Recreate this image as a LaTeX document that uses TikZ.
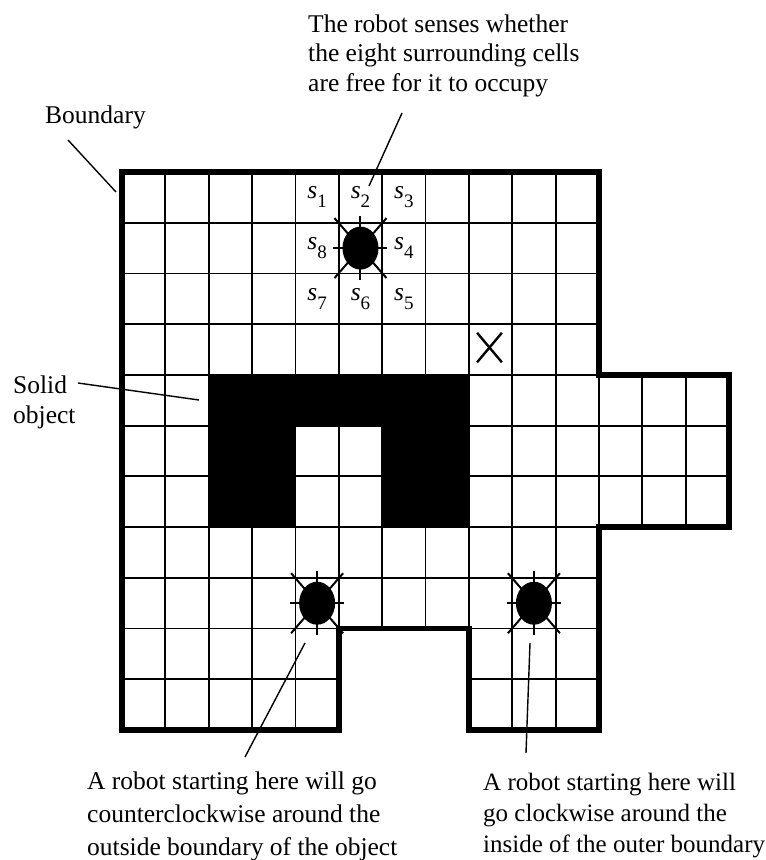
\documentclass[tikz,border=0pt]{standalone}
\usepackage{fontspec}
\setmainfont{Liberation Serif}
\usetikzlibrary{shapes.geometric}
\newcommand\svar[1]{\textit{s}\raisebox{-9pt}{\fontsize{19}{19}\selectfont #1}}
\begin{document}
\begin{tikzpicture}[x=1pt,y=-1pt,
  gridline/.style={line width=1.8pt},
  wall/.style={line width=5.5pt, line join=miter},
  leader/.style={line width=1.4pt},
  lbl/.style={font=\fontsize{25.5}{31}\selectfont, inner sep=0pt, align=left, anchor=base west},
  robot/.style={ellipse, fill=black, minimum width=36pt, minimum height=43pt, inner sep=0pt},
  spike/.style={line width=2pt},
  slabel/.style={font=\fontsize{25.5}{31}\selectfont, inner sep=0pt}]
\useasboundingbox (0,0) rectangle (766,860);
\fill[white] (0,0) rectangle (766,860);
\begin{scope}[shift={(122pt,-172pt)}, x=43.36pt, y=-50.73pt]
  \begin{scope}
    \clip (0,0) -- (11,0) -- (11,4) -- (14,4) -- (14,7) -- (11,7) -- (11,11) -- (8,11) -- (8,9) -- (5,9) -- (5,11) -- (0,11) -- cycle;
    \foreach \c in {1,...,13} \draw[gridline] (\c,0) -- (\c,11);
    \foreach \r in {1,...,10} \draw[gridline] (0,\r) -- (14,\r);
  \end{scope}
  % solid object
  \fill (2,4) -- (8,4) -- (8,7) -- (6,7) -- (6,5) -- (4,5) -- (4,7) -- (2,7) -- cycle;
  % boundary
  \draw[wall] (0,0) -- (11,0) -- (11,4) -- (14,4) -- (14,7) -- (11,7) -- (11,11) -- (8,11) -- (8,9) -- (5,9) -- (5,11) -- (0,11) -- cycle;
  % sensing labels
  \node[slabel] (s1) at (4.5,0.5) {\svar{1}};
  \node[slabel] (s2) at (5.5,0.5) {\svar{2}};
  \node[slabel] (s3) at (6.5,0.5) {\svar{3}};
  \node[slabel] (s4) at (6.5,1.5) {\svar{4}};
  \node[slabel] (s5) at (6.5,2.5) {\svar{5}};
  \node[slabel] (s6) at (5.5,2.5) {\svar{6}};
  \node[slabel] (s7) at (4.5,2.5) {\svar{7}};
  \node[slabel] (s8) at (4.5,1.5) {\svar{8}};
  % robots
  \foreach \n/\p in {r1/{(5.5,1.5)}, r2/{(4.5,8.5)}, r3/{(9.5,8.5)}}{
    \node[robot] (\n) at \p {};
    \foreach \dx/\dy in {0/32, 0/-32, 27/0, -27/0, 26/30, -26/30, 26/-30, -26/-30}
      \draw[spike] (\n.center) -- ++(\dx pt,\dy pt);
  }
  % X mark
  \draw[line width=2.4pt] (8.19,3.17) -- (8.76,3.75);
  \draw[line width=2.4pt] (8.76,3.17) -- (8.19,3.75);
\end{scope}
% labels (base anchor = baseline of the last line)
\node[lbl, font=\fontsize{25.5}{29.5}\selectfont] (toplbl) at (308,91) {The robot senses whether\\the eight surrounding cells\\are free for it to occupy};
\node[lbl] (bnd) at (45,123) {Boundary};
\node[lbl, font=\fontsize{25.5}{30}\selectfont] (solid) at (13,423) {Solid\\object};
\node[lbl, font=\fontsize{25.5}{33}\selectfont] (bl) at (87,855) {A robot starting here will go\\counterclockwise around the\\outside boundary of the object};
\node[lbl, font=\fontsize{25}{31}\selectfont] (br) at (483,852) {A robot starting here will\\go clockwise around the\\inside of the outer boundary};
% leaders
\coordinate (tA) at (402,113); \coordinate (tB) at (369,186);
\coordinate (bA) at (68,140);  \coordinate (bB) at (116,192);
\coordinate (sA) at (78,383);  \coordinate (sB) at (199,400);
\coordinate (lA) at (305,643); \coordinate (lB) at (245,757);
\coordinate (rA) at (530,643); \coordinate (rB) at (526,753);
\draw[leader] (tA) -- (tB);
\draw[leader] (bA) -- (bB);
\draw[leader] (sA) -- (sB);
\draw[leader] (lA) -- (lB);
\draw[leader] (rA) -- (rB);
\end{tikzpicture}
\end{document}
